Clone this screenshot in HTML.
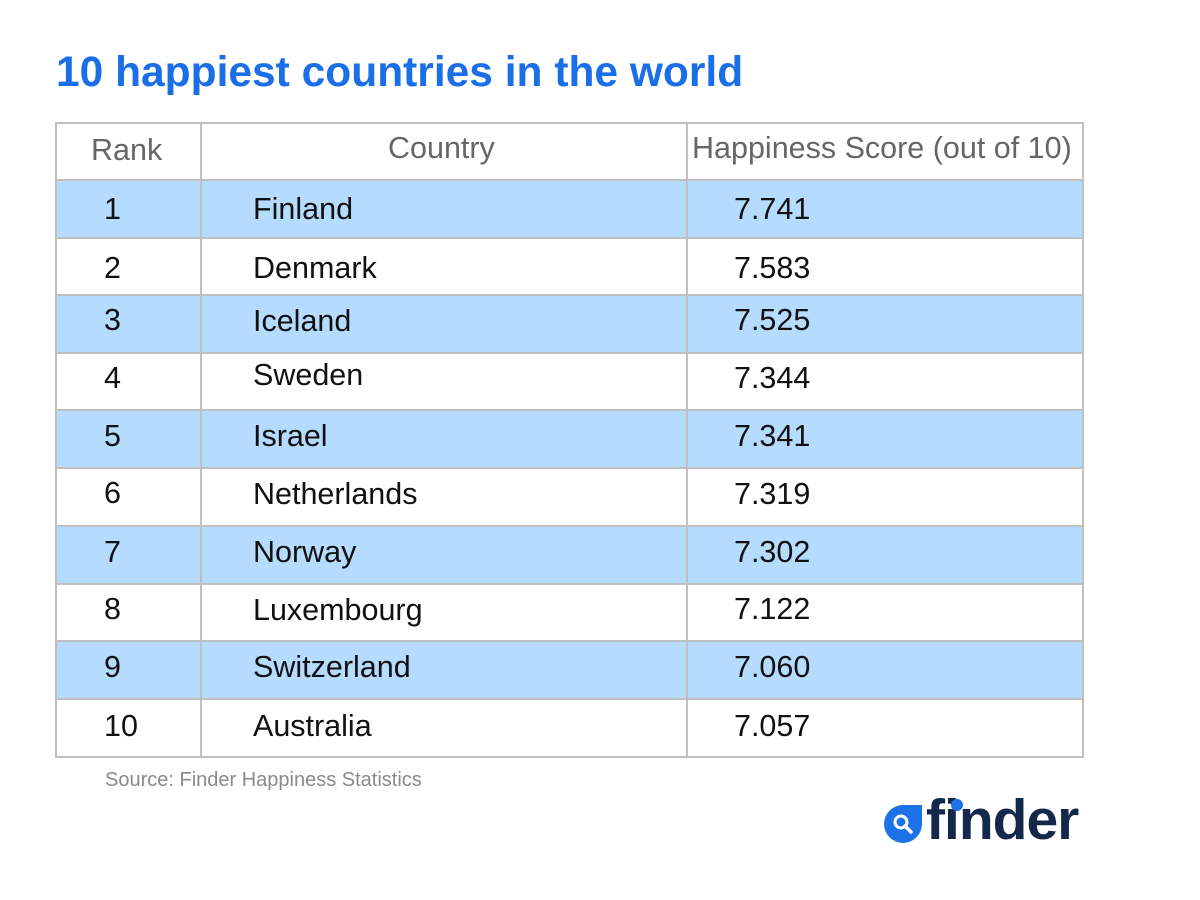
<!DOCTYPE html>
<html><head><meta charset="utf-8"><style>
body{margin:0;width:1200px;height:900px;background:#fff;position:relative;font-family:"Liberation Sans",Arial,sans-serif;overflow:hidden}
.t{position:absolute;white-space:nowrap;line-height:32px;font-size:30.5px;color:#111}
.h{color:#666}
.r{position:absolute;left:55px;width:1029px;background:#b5dbfe}
.hl{position:absolute;left:55px;width:1029px;height:2px;background:#c0c0c0}
.vl{position:absolute;top:122px;height:636px;width:2px;background:#c0c0c0}
</style></head><body>
<div style="position:absolute;left:56px;top:49px;font-size:42.5px;font-weight:bold;color:#1a6ee8;line-height:48px">10 happiest countries in the world</div>

<div class="r" style="top:181px;height:57px"></div>
<div class="r" style="top:296px;height:57px"></div>
<div class="r" style="top:411px;height:57px"></div>
<div class="r" style="top:527px;height:57px"></div>
<div class="r" style="top:642px;height:57px"></div>

<div class="hl" style="top:122px"></div>
<div class="hl" style="top:179px"></div>
<div class="hl" style="top:237px"></div>
<div class="hl" style="top:294px"></div>
<div class="hl" style="top:352px"></div>
<div class="hl" style="top:409px"></div>
<div class="hl" style="top:467px"></div>
<div class="hl" style="top:525px"></div>
<div class="hl" style="top:583px"></div>
<div class="hl" style="top:640px"></div>
<div class="hl" style="top:698px"></div>
<div class="hl" style="top:756px"></div>
<div class="vl" style="left:55px"></div>
<div class="vl" style="left:200px"></div>
<div class="vl" style="left:686px"></div>
<div class="vl" style="left:1082px"></div>

<div class="t h" style="left:91px;top:134px">Rank</div>
<div class="t h" style="left:388px;top:132px">Country</div>
<div class="t h" style="left:692px;top:132px">Happiness Score (out of 10)</div>

<div class="t" style="left:104px;top:193px">1</div><div class="t" style="left:253px;top:193px">Finland</div><div class="t" style="left:734px;top:193px">7.741</div>
<div class="t" style="left:104px;top:252px">2</div><div class="t" style="left:253px;top:252px">Denmark</div><div class="t" style="left:734px;top:252px">7.583</div>
<div class="t" style="left:104px;top:304px">3</div><div class="t" style="left:253px;top:305px">Iceland</div><div class="t" style="left:734px;top:304px">7.525</div>
<div class="t" style="left:104px;top:362px">4</div><div class="t" style="left:253px;top:359px">Sweden</div><div class="t" style="left:734px;top:362px">7.344</div>
<div class="t" style="left:104px;top:420px">5</div><div class="t" style="left:253px;top:420px">Israel</div><div class="t" style="left:734px;top:420px">7.341</div>
<div class="t" style="left:104px;top:477px">6</div><div class="t" style="left:253px;top:478px">Netherlands</div><div class="t" style="left:734px;top:478px">7.319</div>
<div class="t" style="left:104px;top:536px">7</div><div class="t" style="left:253px;top:536px">Norway</div><div class="t" style="left:734px;top:536px">7.302</div>
<div class="t" style="left:104px;top:593px">8</div><div class="t" style="left:253px;top:594px">Luxembourg</div><div class="t" style="left:734px;top:593px">7.122</div>
<div class="t" style="left:104px;top:651px">9</div><div class="t" style="left:253px;top:651px">Switzerland</div><div class="t" style="left:734px;top:651px">7.060</div>
<div class="t" style="left:104px;top:710px">10</div><div class="t" style="left:253px;top:710px">Australia</div><div class="t" style="left:734px;top:710px">7.057</div>

<div style="position:absolute;left:105px;top:768px;font-size:20px;color:#8a8a8a;line-height:24px">Source: Finder Happiness Statistics</div>

<div style="position:absolute;left:884px;top:805px;width:38px;height:38px;background:#1c72e6;border-radius:19px 0 19px 19px"></div>
<svg style="position:absolute;left:884px;top:805px" width="38" height="38"><circle cx="17" cy="17" r="6" fill="none" stroke="#fff" stroke-width="3"/><line x1="21" y1="21" x2="27" y2="27" stroke="#fff" stroke-width="3.5" stroke-linecap="round"/></svg>
<div style="position:absolute;left:926px;top:788px;font-size:57px;font-weight:bold;color:#14284b;line-height:64px;letter-spacing:-1px">finder</div>
<div style="position:absolute;left:951px;top:799px;width:12px;height:12px;border-radius:6px;background:#1c72e6"></div>
</body></html>
